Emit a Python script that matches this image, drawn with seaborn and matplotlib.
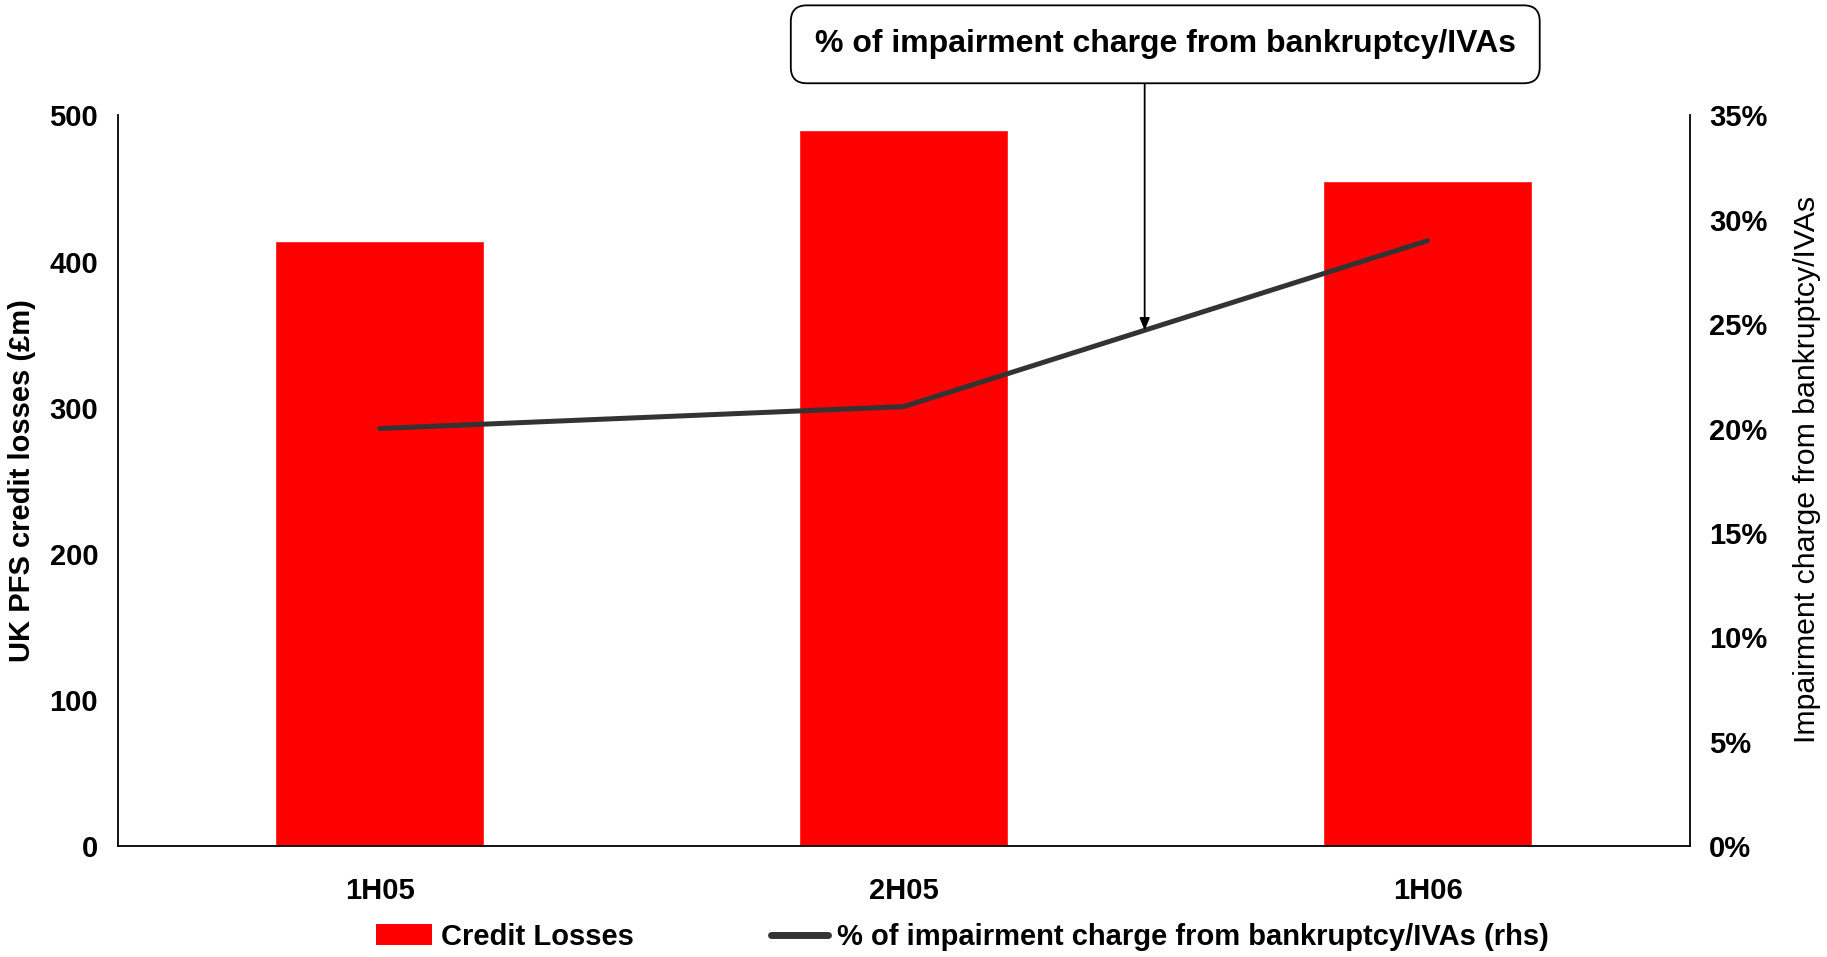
import numpy as np
import pandas as pd
import matplotlib
matplotlib.use("Agg")
import matplotlib.pyplot as plt
import matplotlib.transforms as mtransforms
from matplotlib.patches import Patch
from matplotlib.lines import Line2D
from matplotlib import font_manager
import seaborn as sns

periods = ["1H05", "2H05", "1H06"]
credit_losses = [414, 490, 455]
bankruptcy_pct = [20.0, 21.05, 29.0]
left_ticks = [0, 100, 200, 300, 400, 500]
right_ticks = [0, 5, 10, 15, 20, 25, 30, 35]

sns.set_theme(style="white")
names = {f.name for f in font_manager.fontManager.ttflist}
narrow = "Liberation Sans Narrow" if "Liberation Sans Narrow" in names else "Liberation Sans"
plt.rcParams["font.family"] = ["Liberation Sans", "DejaVu Sans"]
for key in ("text.color", "axes.labelcolor", "xtick.color", "ytick.color"):
    plt.rcParams[key] = "black"

RED = "#FF0000"
LINE = "#333333"

fig = plt.figure(figsize=(18.27, 9.57), dpi=100)
ax = fig.add_axes([0.0644, 0.116, 0.8604, 0.7634])

df = pd.DataFrame({"period": periods, "losses": credit_losses})
sns.barplot(data=df, x="period", y="losses", color=RED, width=0.4,
            saturation=1, ax=ax, zorder=2)
ax.set_xlim(-0.5, len(periods) - 0.5)
ax.set_ylim(0, 500)
ax.set_yticks(left_ticks)
ax.set_yticklabels([str(t) for t in left_ticks], fontsize=21, fontweight="bold")
ax.set_xticks(range(len(periods)))
ax.set_xticklabels(periods, fontsize=21, fontweight="bold", family=narrow)
ax.tick_params(axis="x", length=0, pad=22)
ax.tick_params(axis="y", length=0, pad=14)
ax.set_xlabel("")
ax.set_ylabel("UK PFS credit losses (£m)", fontsize=21, fontweight="bold",
              family=narrow, labelpad=10)

ax2 = ax.twinx()
x_pos = np.arange(len(periods))
sns.lineplot(x=x_pos, y=bankruptcy_pct, color=LINE, linewidth=3.6, ax=ax2,
             solid_capstyle="round")
ax2.set_ylim(0, 35)
ax2.set_yticks(right_ticks)
ax2.set_yticklabels([f"{t}%" for t in right_ticks], fontsize=21, fontweight="bold")
ax2.tick_params(axis="y", length=0, pad=14)
ax2.set_ylabel("Impairment charge from bankruptcy/IVAs", fontsize=21.8,
               family=narrow, fontweight="medium", labelpad=19)
ax2.yaxis.set_label_coords(1.066, 0.515)

for a in (ax, ax2):
    a.spines["top"].set_visible(False)
    for s in ("left", "right", "bottom"):
        a.spines[s].set_color("black")
        a.spines[s].set_linewidth(1.3)
ax.spines["right"].set_visible(False)
ax2.spines["left"].set_visible(False)
ax2.spines["bottom"].set_visible(False)

# callout box above the plot
fig.text(0.6378, 0.9537, "% of impairment charge from bankruptcy/IVAs",
         ha="center", va="center", fontsize=23, fontweight="bold", family=narrow,
         bbox=dict(boxstyle="round,pad=0.75,rounding_size=0.5",
                   fc="white", ec="black", lw=1.3))

# vertical arrow from the box down onto the line
arrow_x = 1.46
arrow_y = float(np.interp(arrow_x, x_pos, bankruptcy_pct))
blend = mtransforms.blended_transform_factory(ax2.transData, fig.transFigure)
ax2.annotate("", xy=(arrow_x, arrow_y), xycoords="data",
             xytext=(arrow_x, 0.9136), textcoords=blend,
             arrowprops=dict(arrowstyle="-|>,head_length=0.6,head_width=0.25",
                             color="black", lw=1.3, shrinkA=0, shrinkB=0),
             annotation_clip=False)

handles = [Patch(facecolor=RED, edgecolor="none"),
           Line2D([0], [0], color=LINE, linewidth=5)]
labels = ["Credit Losses", "% of impairment charge from bankruptcy/IVAs (rhs)"]
fig.legend(handles, labels, loc="center", bbox_to_anchor=(0.5266, 0.021),
           ncol=2, frameon=False, columnspacing=4.7, handlelength=1.95,
           handletextpad=0.3, prop={"family": narrow, "weight": "bold", "size": 21})

fig.savefig("out.png", dpi=100)
